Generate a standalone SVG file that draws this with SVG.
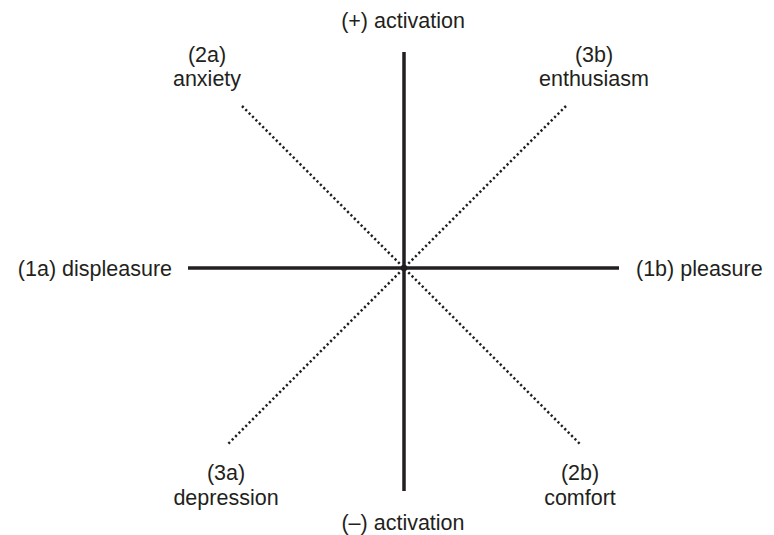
<svg xmlns="http://www.w3.org/2000/svg" width="774" height="535" viewBox="0 0 774 535">
<style>
.axis{stroke:#231f20;stroke-width:3.5;fill:none}
.diag{stroke:#231f20;stroke-width:2.5;stroke-dasharray:2.2 2.6;fill:none}
text{font-family:"Liberation Sans","Open Sans",sans-serif;font-size:21.5px;fill:#231f20}
.m{text-anchor:middle}
</style>
<rect width="774" height="535" fill="#fff"/>
<g id="connectors">
<line class="axis" x1="404" y1="52" x2="404" y2="491"/>
<line class="axis" x1="188" y1="268" x2="619" y2="268"/>
<line class="diag" x1="242" y1="106" x2="580" y2="444"/>
<line class="diag" x1="566" y1="106" x2="228" y2="444"/>
</g>
<g id="top"><text class="m" x="403" y="28">(+) activation</text></g>
<g id="n2a"><text class="m" x="207" y="62">(2a)</text><text class="m" x="207" y="86">anxiety</text></g>
<g id="n3b"><text class="m" x="594" y="62">(3b)</text><text class="m" x="594" y="86">enthusiasm</text></g>
<g id="n1a"><text x="172" y="276" text-anchor="end">(1a) displeasure</text></g>
<g id="n1b"><text x="636" y="276">(1b) pleasure</text></g>
<g id="n3a"><text class="m" x="226" y="480">(3a)</text><text class="m" x="226" y="505">depression</text></g>
<g id="n2b"><text class="m" x="580" y="480">(2b)</text><text class="m" x="580" y="505">comfort</text></g>
<g id="bottom"><text class="m" x="403" y="530">(–) activation</text></g>
</svg>
